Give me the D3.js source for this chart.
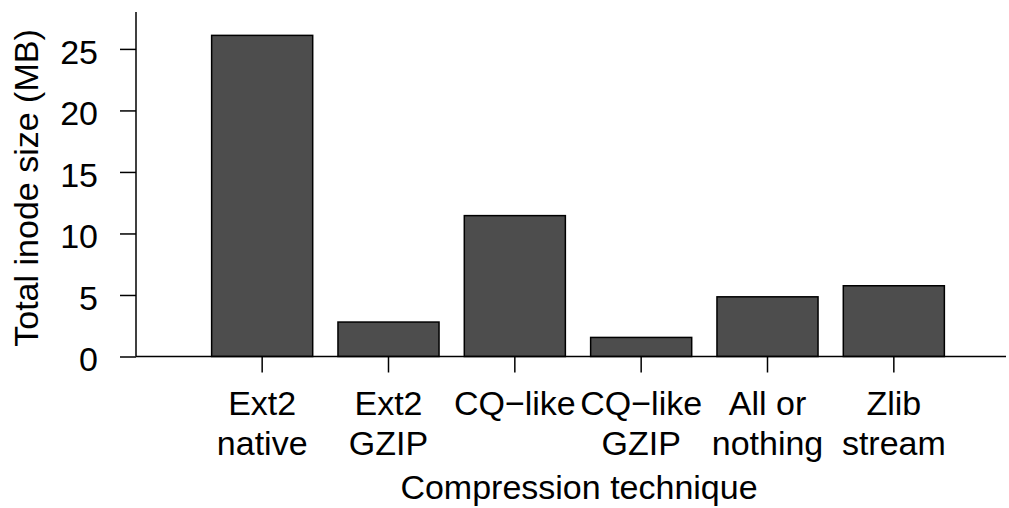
<!DOCTYPE html>
<html><head><meta charset="utf-8">
<script src="https://cdn.jsdelivr.net/npm/d3@7"></script>
<style>body{margin:0;background:#fff}svg{display:block}text{font-family:"Liberation Sans",Arial,sans-serif;fill:#000}</style>
</head><body>
<svg id="c" width="1009" height="508"></svg>
<script>
const categories = [["Ext2","native"],["Ext2","GZIP"],["CQ\u2212like"],["CQ\u2212like","GZIP"],["All or","nothing"],["Zlib","stream"]];
const values = [26.1, 2.8, 11.45, 1.55, 4.85, 5.75];
const yTicks = [0,5,10,15,20,25];

const FS = 34;
const svg = d3.select("#c");
const ids = categories.map((c,i)=>i);
const x = d3.scaleBand().domain(ids).range([199,957]).paddingInner(0.2).paddingOuter(0.1);
const y = d3.scaleLinear().domain([0,28]).range([356.5,12]);

// bars
svg.append("g").selectAll("rect").data(values).join("rect")
  .attr("x",(d,i)=>x(i)).attr("width",x.bandwidth())
  .attr("y",d=>y(d)).attr("height",d=>y(0)-y(d))
  .attr("fill","#4d4d4d").attr("stroke","#000").attr("stroke-width",1.5);

// y axis
const ya = svg.append("g").attr("transform","translate(136,0)")
  .call(d3.axisLeft(y).tickValues(yTicks).tickSize(16).tickPadding(22).tickSizeOuter(0));
ya.attr("font-size",null).attr("font-family",null);
ya.select(".domain").remove();
ya.append("line").attr("x1",0).attr("x2",0).attr("y1",12).attr("y2",356.5).attr("stroke","#000").attr("stroke-width",1.5);
ya.selectAll(".tick line").attr("stroke","#000").attr("stroke-width",1.5);
ya.selectAll(".tick text").attr("font-size",FS).attr("fill","#000").attr("dy","0.42em");

// x axis
const xa = svg.append("g").attr("transform","translate(0,356.5)")
  .call(d3.axisBottom(x).tickSize(16).tickFormat(""));
xa.attr("font-size",null).attr("font-family",null);
xa.select(".domain").remove();
xa.append("line").attr("x1",136).attr("x2",1006).attr("y1",0).attr("y2",0).attr("stroke","#000").attr("stroke-width",1.5);
xa.selectAll(".tick line").attr("stroke","#000").attr("stroke-width",1.5);
xa.selectAll(".tick").each(function(d){
  const t = d3.select(this).append("text").attr("text-anchor","middle").attr("font-size",FS);
  categories[d].forEach((s,k)=>t.append("tspan").attr("x",0).attr("y",58.5+k*40).text(s));
});

// titles
svg.append("text").attr("x",579).attr("y",499).attr("text-anchor","middle").attr("font-size",FS).text("Compression technique");
svg.append("text").attr("transform","translate(38,188) rotate(-90)").attr("text-anchor","middle").attr("font-size",FS).text("Total inode size (MB)");
</script>
</body></html>
